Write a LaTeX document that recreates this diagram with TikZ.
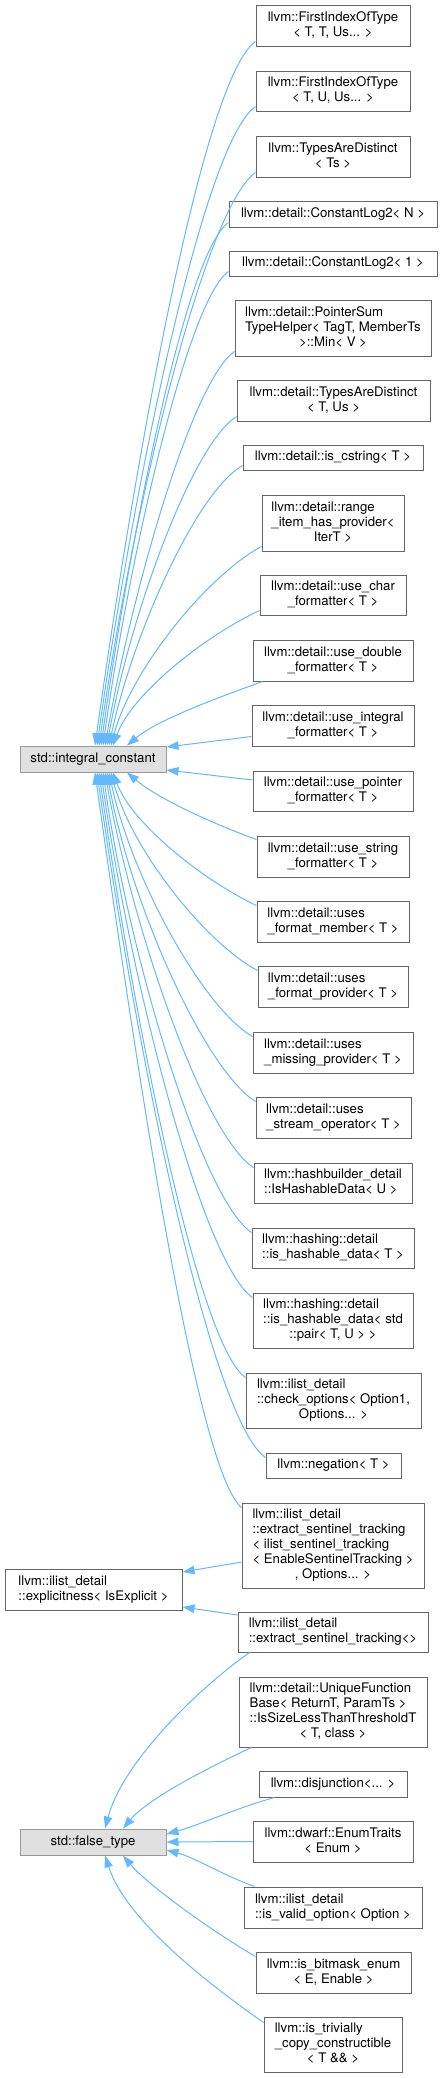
\documentclass[tikz,border=0pt]{standalone}
\usepackage{fontspec}
\setmainfont{TeX Gyre Heros}
\usepackage{xcolor}
\usetikzlibrary{arrows.meta}
\definecolor{edgeblue}{HTML}{63B8FF}
\definecolor{boxgray}{HTML}{666666}
\definecolor{basegray}{HTML}{999999}
\definecolor{basefill}{HTML}{E0E0E0}
\newcommand{\rows}[1]{\begin{tabular}{@{}l@{}}#1\end{tabular}}
\newcommand{\ctr}[1]{\multicolumn{1}{@{}c@{}}{#1}}

\begin{document}
\begin{tikzpicture}[x=1pt, y=-1pt, >={Triangle[length=12pt,width=8.5pt]},
  cls/.style={draw=boxgray, fill=white, line width=1pt, inner sep=0pt, font=\fontsize{13.2}{15}\selectfont},
  base/.style={cls, draw=basegray, fill=basefill},
  inh/.style={draw=edgeblue, line width=1pt, <-}]
  \useasboundingbox (0,0) rectangle (442,2078);
  % base classes
  \node[base, minimum width=146pt, minimum height=26pt] (ic) at (93,759) {\rows{std::integral\_constant}};
  \node[cls, minimum width=177pt, minimum height=41pt] (exp) at (93.5,1589.5) {\rows{llvm::ilist\_detail\\::explicitness< IsExplicit >}};
  \node[base, minimum width=146pt, minimum height=26pt] (ft) at (93,1842) {\rows{std::false\_type}};
  % derived classes
  \node[cls, minimum width=154pt, minimum height=41pt] (fiT) at (333,25.5) {\rows{llvm::FirstIndexOfType\\\ctr{< T, T, Us... >}}};
  \node[cls, minimum width=154pt, minimum height=40pt] (fiU) at (333,91) {\rows{llvm::FirstIndexOfType\\\ctr{< T, U, Us... >}}};
  \node[cls, minimum width=154pt, minimum height=41pt] (tad) at (333,156.5) {\rows{llvm::TypesAreDistinct\\\ctr{< Ts >}}};
  \node[cls, minimum width=208pt, minimum height=26pt] (cl2N) at (333,214) {\rows{llvm::detail::ConstantLog2< N >}};
  \node[cls, minimum width=208pt, minimum height=25pt] (cl21) at (333,263.5) {\rows{llvm::detail::ConstantLog2< 1 >}};
  \node[cls, minimum width=196pt, minimum height=56pt] (psum) at (333,328) {\rows{llvm::detail::PointerSum\\TypeHelper< TagT, MemberTs\\\ctr{>::Min< V >}}};
  \node[cls, minimum width=193pt, minimum height=41pt] (dtad) at (333.5,400.5) {\rows{llvm::detail::TypesAreDistinct\\\ctr{< T, Us >}}};
  \node[cls, minimum width=180pt, minimum height=25pt] (cstr) at (333,457.5) {\rows{llvm::detail::is\_cstring< T >}};
  \node[cls, minimum width=142pt, minimum height=56pt] (rihp) at (333,523) {\rows{llvm::detail::range\\\_item\_has\_provider<\\\ctr{IterT >}}};
  \node[cls, minimum width=146pt, minimum height=40pt] (uch) at (333,595) {\rows{llvm::detail::use\_char\\\ctr{\_formatter< T >}}};
  \node[cls, minimum width=160pt, minimum height=41pt] (udbl) at (333,660.5) {\rows{llvm::detail::use\_double\\\ctr{\_formatter< T >}}};
  \node[cls, minimum width=162pt, minimum height=41pt] (uint) at (333,725.5) {\rows{llvm::detail::use\_integral\\\ctr{\_formatter< T >}}};
  \node[cls, minimum width=160pt, minimum height=40pt] (uptr) at (333,791) {\rows{llvm::detail::use\_pointer\\\ctr{\_formatter< T >}}};
  \node[cls, minimum width=152pt, minimum height=41pt] (ustr) at (333,856.5) {\rows{llvm::detail::use\_string\\\ctr{\_formatter< T >}}};
  \node[cls, minimum width=152pt, minimum height=41pt] (ufm) at (333,921.5) {\rows{llvm::detail::uses\\\_format\_member< T >}};
  \node[cls, minimum width=150pt, minimum height=41pt] (ufp) at (333,986.5) {\rows{llvm::detail::uses\\\_format\_provider< T >}};
  \node[cls, minimum width=160pt, minimum height=41pt] (ump) at (333,1052.5) {\rows{llvm::detail::uses\\\_missing\_provider< T >}};
  \node[cls, minimum width=155pt, minimum height=41pt] (uso) at (333.5,1117.5) {\rows{llvm::detail::uses\\\_stream\_operator< T >}};
  \node[cls, minimum width=158pt, minimum height=40pt] (hbd) at (333,1183) {\rows{llvm::hashbuilder\_detail\\::IsHashableData< U >}};
  \node[cls, minimum width=162pt, minimum height=40pt] (hdt) at (333,1248) {\rows{llvm::hashing::detail\\::is\_hashable\_data< T >}};
  \node[cls, minimum width=160pt, minimum height=55pt] (hdp) at (333,1320.5) {\rows{llvm::hashing::detail\\::is\_hashable\_data< std\\\ctr{::pair< T, U > >}}};
  \node[cls, minimum width=175pt, minimum height=55pt] (chk) at (333.5,1400.5) {\rows{llvm::ilist\_detail\\::check\_options< Option1,\\\ctr{Options... >}}};
  \node[cls, minimum width=135pt, minimum height=25pt] (neg) at (333.5,1465.5) {\rows{llvm::negation< T >}};
  \node[cls, minimum width=182pt, minimum height=85pt] (est) at (333,1545.5) {\rows{llvm::ilist\_detail\\::extract\_sentinel\_tracking\\< ilist\_sentinel\_tracking\\< EnableSentinelTracking >\\\ctr{, Options... >}}};
  \node[cls, minimum width=190pt, minimum height=40pt] (est0) at (333,1632) {\rows{llvm::ilist\_detail\\::extract\_sentinel\_tracking<>}};
  \node[cls, minimum width=188pt, minimum height=70pt] (ufb) at (333,1712) {\rows{llvm::detail::UniqueFunction\\Base< ReturnT, ParamTs >\\::IsSizeLessThanThresholdT\\\ctr{< T, class >}}};
  \node[cls, minimum width=148pt, minimum height=26pt] (dis) at (333,1784) {\rows{llvm::disjunction<... >}};
  \node[cls, minimum width=160pt, minimum height=41pt] (enm) at (333,1841.5) {\rows{llvm::dwarf::EnumTraits\\\ctr{< Enum >}}};
  \node[cls, minimum width=178pt, minimum height=41pt] (ivo) at (333,1907.5) {\rows{llvm::ilist\_detail\\::is\_valid\_option< Option >}};
  \node[cls, minimum width=155pt, minimum height=41pt] (bme) at (333.5,1972.5) {\rows{llvm::is\_bitmask\_enum\\\ctr{< E, Enable >}}};
  \node[cls, minimum width=138pt, minimum height=55pt] (tcc) at (333,2044.5) {\rows{llvm::is\_trivially\\\_copy\_constructible\\\ctr{< T \&\& >}}};
  % integral_constant, upper children
  \draw[inh] ([xshift=2pt]ic.north) to[out=82,in=215,out distance=282pt,in distance=65pt] ([yshift=5pt]fiT.south west);
  \draw[inh] ([xshift=4pt]ic.north) to[out=82,in=215,out distance=256pt,in distance=64pt] ([yshift=5pt]fiU.south west);
  \draw[inh] ([xshift=6pt]ic.north) to[out=82,in=215,out distance=230pt,in distance=63pt] ([yshift=5pt]tad.south west);
  \draw[inh] ([xshift=8pt]ic.north) to[out=82,in=215,out distance=210pt,in distance=52pt] ([yshift=5pt]cl2N.south west);
  \draw[inh] ([xshift=10pt]ic.north) to[out=82,in=215,out distance=190pt,in distance=50pt] ([yshift=5pt]cl21.south west);
  \draw[inh] ([xshift=12pt]ic.north) to[out=80,in=215,out distance=158pt,in distance=52pt] ([yshift=5pt]psum.south west);
  \draw[inh] ([xshift=14pt]ic.north) to[out=80,in=212,out distance=132pt,in distance=52pt] ([yshift=5pt]dtad.south west);
  \draw[inh] ([xshift=16pt]ic.north) to[out=78,in=210,out distance=112pt,in distance=54pt] ([yshift=5pt]cstr.south west);
  \draw[inh] ([xshift=18pt]ic.north) to[out=75,in=208,out distance=80pt,in distance=60pt] ([yshift=5pt]rihp.south west);
  \draw[inh] ([xshift=20pt]ic.north) to[out=70,in=205,out distance=55pt,in distance=60pt] ([yshift=5pt]uch.south west);
  \draw[inh] ([xshift=34pt]ic.north) to[out=40,in=200,out distance=40pt,in distance=50pt] ([xshift=10pt]udbl.south west);
  \draw[inh] ([yshift=12pt]ic.east) -- ([yshift=-11pt]uint.west);
  \draw[inh] ([yshift=-11pt]ic.east) -- ([yshift=11pt]uptr.west);
  % integral_constant, lower children
  \draw[inh] ([xshift=34pt]ic.south) to[out=-40,in=160,out distance=40pt,in distance=50pt] ([yshift=-4pt]ustr.north west);
  \draw[inh] ([xshift=20pt]ic.south) to[out=-70,in=155,out distance=54pt,in distance=58pt] ([yshift=-5pt]ufm.north west);
  \draw[inh] ([xshift=18pt]ic.south) to[out=-75,in=152,out distance=80pt,in distance=59pt] ([yshift=-5pt]ufp.north west);
  \draw[inh] ([xshift=16pt]ic.south) to[out=-78,in=150,out distance=106pt,in distance=58pt] ([yshift=-5pt]ump.north west);
  \draw[inh] ([xshift=14pt]ic.south) to[out=-80,in=148,out distance=132pt,in distance=60pt] ([yshift=-5pt]uso.north west);
  \draw[inh] ([xshift=12pt]ic.south) to[out=-80,in=147,out distance=158pt,in distance=60pt] ([yshift=-5pt]hbd.north west);
  \draw[inh] ([xshift=10pt]ic.south) to[out=-82,in=146,out distance=184pt,in distance=60pt] ([yshift=-5pt]hdt.north west);
  \draw[inh] ([xshift=8pt]ic.south) to[out=-82,in=145,out distance=210pt,in distance=61pt] ([yshift=-5pt]hdp.north west);
  \draw[inh] ([xshift=6pt]ic.south) to[out=-82,in=145,out distance=242pt,in distance=59pt] ([yshift=-5pt]chk.north west);
  \draw[inh] ([xshift=4pt]ic.south) to[out=-82,in=145,out distance=274pt,in distance=68pt] ([yshift=-5pt]neg.north west);
  \draw[inh] ([xshift=2pt]ic.south) to[out=-82,in=140,out distance=294pt,in distance=59pt] ([yshift=-5pt]est.north west);
  % explicitness
  \draw[inh] ([yshift=17.5pt]exp.east) -- ([yshift=-16.5pt]est.west);
  \draw[inh] ([yshift=-17.5pt]exp.east) -- ([yshift=17pt]est0.west);
  % false_type
  \draw[inh] ([xshift=12pt]ft.north) to[out=75,in=215,out distance=70pt,in distance=60pt] ([xshift=12pt]est0.south west);
  \draw[inh] ([xshift=30pt]ft.north) to[out=50,in=205,out distance=40pt,in distance=45pt] ([xshift=13pt]ufb.south west);
  \draw[inh] ([yshift=8pt]ft.east) to[out=15,in=195,out distance=30pt,in distance=35pt] ([xshift=16pt]dis.south west);
  \draw[inh] (ft.east) -- (enm.west);
  \draw[inh] ([yshift=-8pt]ft.east) to[out=-15,in=160,out distance=30pt,in distance=35pt] ([xshift=11pt]ivo.north west);
  \draw[inh] ([xshift=30pt]ft.south) to[out=-50,in=150,out distance=40pt,in distance=45pt] ([yshift=-5pt]bme.north west);
  \draw[inh] ([xshift=12pt]ft.south) to[out=-72,in=145,out distance=70pt,in distance=60pt] ([yshift=-6pt]tcc.north west);
\end{tikzpicture}
\end{document}
